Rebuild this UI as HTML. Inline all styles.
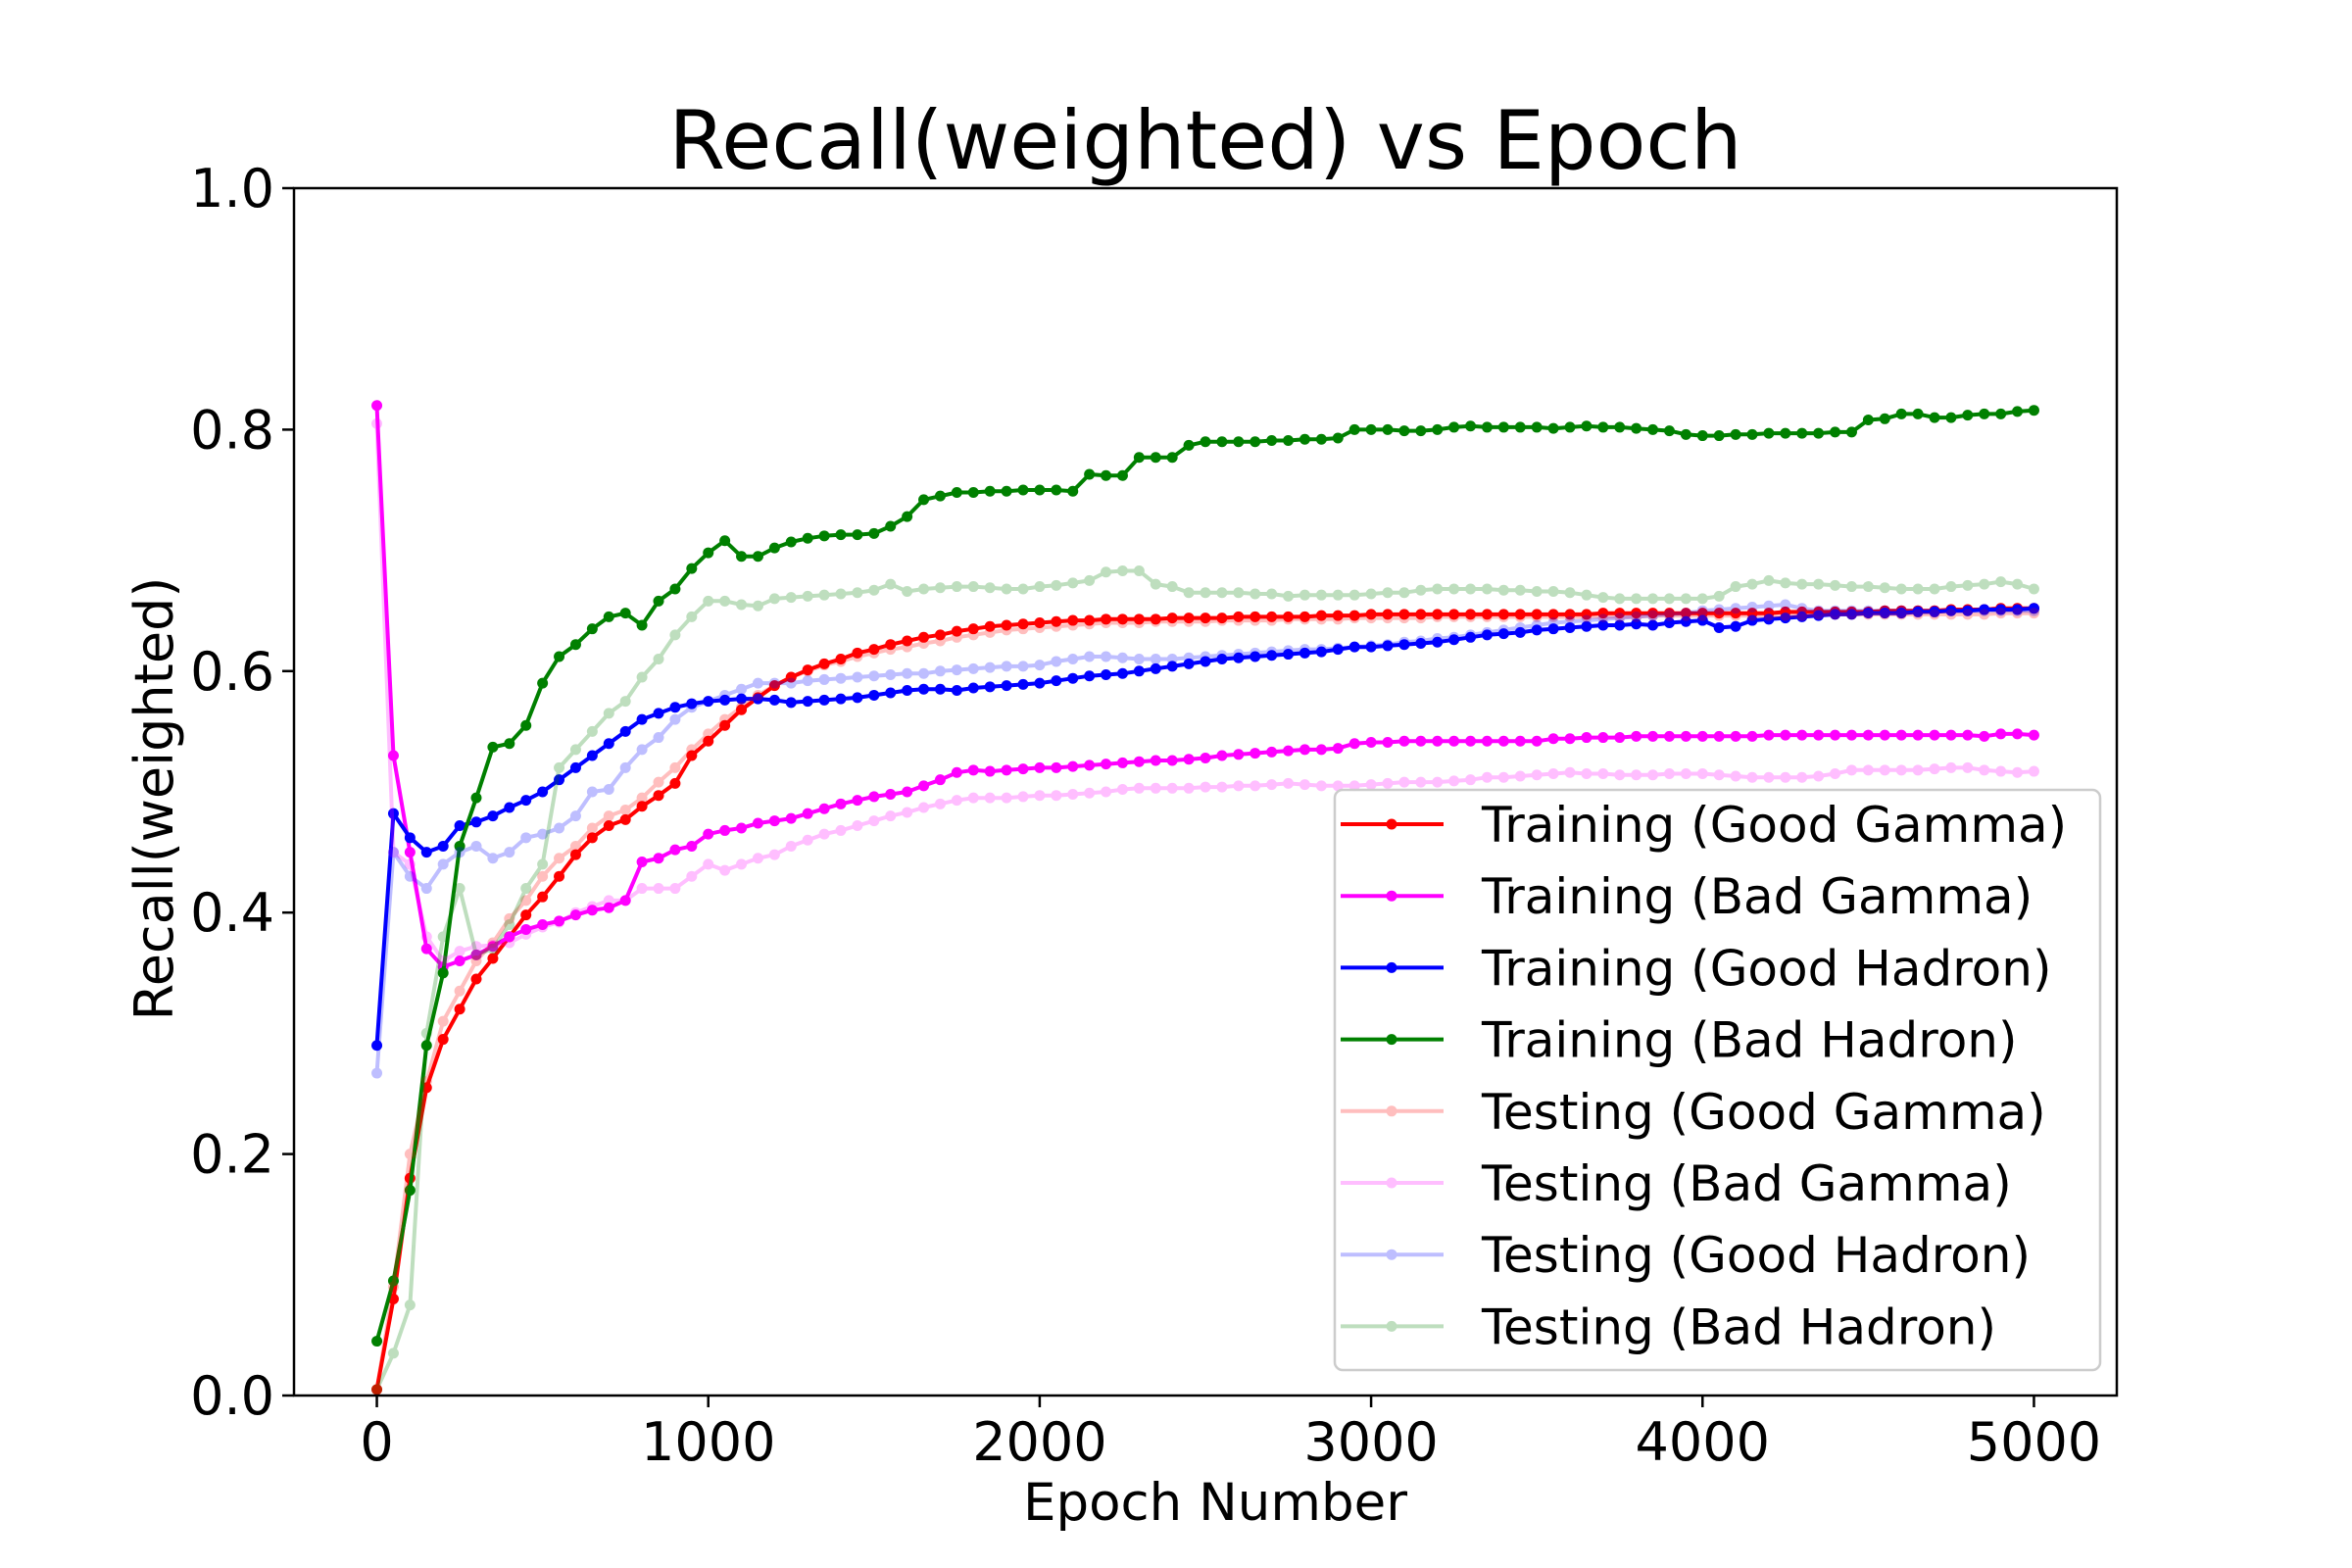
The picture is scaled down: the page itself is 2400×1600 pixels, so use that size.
<!DOCTYPE html>
<html><head><meta charset="utf-8"><style>
html,body{margin:0;padding:0;background:#fff;}
svg{display:block;font-family:"DejaVu Sans","Liberation Sans",sans-serif;}
</style></head><body>
<svg id="chart" width="2400" height="1600" viewBox="0 0 2400 1600" xmlns="http://www.w3.org/2000/svg">
<rect width="2400" height="1600" fill="#fff"/>
<text x="1230" y="172" font-size="83" text-anchor="middle">Recall(weighted) vs Epoch</text>
<g id="plot"></g>
<rect x="300" y="192" width="1860" height="1232" fill="none" stroke="#000" stroke-width="2.5"/>
<g id="axes"></g>
<text x="1240" y="1551" font-size="53" text-anchor="middle">Epoch Number</text>
<text transform="translate(176,815) rotate(-90)" font-size="54" text-anchor="middle">Recall(weighted)</text>
<g id="legend"></g>
</svg>
<script>
const epochStep = 50;
const trainGoodGamma = [.005,
.08,.18,.255,.295,.32,.345,.362,.38,.398,.413,
.43,.448,.462,.472,.477,.488,.497,.507,.53,.542,
.555,.568,.578,.588,.595,.601,.606,.61,.615,.618,
.622,.625,.628,.63,.633,.635,.637,.638,.639,.64,
.641,.642,.642,.643,.643,.643,.643,.644,.644,.644,
.644,.645,.645,.645,.645,.645,.646,.646,.646,.647,
.647,.647,.647,.647,.647,.647,.647,.647,.647,.647,
.647,.647,.647,.648,.648,.648,.648,.648,.648,.648,
.648,.648,.648,.648,.649,.649,.649,.649,.649,.649,
.65,.65,.65,.65,.651,.651,.651,.652,.652,.652];
const trainBadGamma = [.82,
.53,.45,.37,.355,.36,.365,.372,.38,.386,.39,
.393,.398,.402,.404,.41,.442,.445,.452,.455,.465,
.468,.47,.474,.476,.478,.482,.486,.49,.493,.496,
.498,.5,.505,.51,.516,.518,.517,.518,.519,.52,
.52,.521,.522,.523,.524,.525,.526,.526,.527,.528,
.53,.531,.532,.533,.534,.535,.535,.536,.54,.541,
.541,.542,.542,.542,.542,.542,.542,.542,.542,.542,
.544,.544,.545,.545,.545,.546,.546,.546,.546,.546,
.546,.546,.546,.547,.547,.547,.547,.547,.547,.547,
.547,.547,.547,.547,.547,.547,.546,.548,.548,.547];
const trainGoodHadron = [.29,
.482,.462,.45,.455,.472,.475,.48,.487,.493,.5,
.51,.52,.53,.54,.55,.56,.565,.57,.573,.575,
.576,.577,.577,.576,.574,.575,.576,.577,.578,.58,
.582,.584,.585,.585,.584,.586,.587,.588,.589,.59,
.592,.594,.596,.597,.598,.6,.602,.604,.606,.608,
.61,.611,.612,.613,.614,.615,.616,.618,.62,.62,
.621,.622,.623,.624,.626,.628,.63,.631,.632,.634,
.635,.636,.637,.638,.638,.639,.638,.64,.641,.642,
.636,.637,.642,.643,.644,.645,.646,.647,.647,.648,
.648,.648,.649,.649,.65,.65,.651,.651,.651,.652];
const trainBadHadron = [.045,
.095,.17,.29,.35,.455,.495,.537,.54,.555,.59,
.612,.622,.635,.645,.648,.638,.658,.668,.685,.698,
.708,.695,.695,.702,.707,.71,.712,.713,.713,.714,
.72,.728,.742,.745,.748,.748,.749,.749,.75,.75,
.75,.749,.763,.762,.762,.777,.777,.777,.787,.79,
.79,.79,.79,.791,.791,.792,.792,.793,.8,.8,
.8,.799,.799,.8,.802,.803,.802,.802,.802,.802,
.801,.802,.803,.802,.802,.801,.8,.799,.796,.795,
.795,.796,.796,.797,.797,.797,.797,.798,.798,.808,
.809,.813,.813,.81,.81,.812,.813,.813,.815,.816];
const testGoodGamma = [.005,
.09,.2,.26,.31,.335,.36,.375,.395,.41,.43,
.445,.455,.47,.48,.485,.495,.508,.52,.535,.548,
.56,.57,.58,.588,.595,.6,.605,.608,.612,.615,
.618,.62,.623,.625,.628,.63,.632,.634,.635,.636,
.637,.638,.639,.64,.64,.64,.641,.641,.641,.641,
.642,.642,.642,.642,.643,.643,.643,.643,.644,.644,
.644,.644,.644,.645,.645,.645,.645,.645,.645,.645,
.645,.645,.645,.645,.645,.645,.646,.646,.646,.646,
.646,.646,.646,.646,.646,.646,.647,.647,.647,.647,
.647,.647,.647,.647,.647,.647,.647,.648,.648,.648];
const testBadGamma = [.805,
.45,.44,.38,.36,.368,.372,.373,.375,.382,.388,
.392,.4,.405,.41,.41,.42,.42,.42,.43,.44,
.435,.44,.445,.448,.455,.46,.465,.468,.472,.476,
.48,.483,.487,.49,.493,.495,.495,.495,.496,.497,
.497,.498,.499,.5,.502,.503,.503,.503,.503,.504,
.504,.505,.505,.506,.507,.506,.505,.505,.505,.506,
.507,.508,.508,.508,.509,.51,.512,.512,.513,.514,
.515,.516,.515,.515,.514,.514,.514,.515,.515,.515,
.514,.513,.512,.512,.512,.512,.513,.515,.518,.518,
.518,.518,.518,.519,.52,.52,.518,.517,.516,.517];
const testGoodHadron = [.267,
.45,.43,.42,.44,.45,.455,.445,.45,.462,.465,
.47,.48,.5,.502,.52,.535,.545,.56,.57,.575,
.58,.585,.59,.59,.59,.592,.593,.594,.595,.596,
.597,.598,.598,.6,.601,.602,.603,.604,.604,.605,
.608,.61,.612,.612,.611,.61,.61,.61,.611,.612,
.613,.614,.615,.616,.617,.618,.618,.619,.62,.621,
.622,.624,.625,.627,.628,.63,.632,.634,.636,.638,
.64,.641,.642,.643,.644,.645,.646,.647,.648,.65,
.651,.652,.653,.654,.655,.652,.65,.65,.65,.65,
.65,.65,.65,.65,.65,.65,.65,.65,.65,.65];
const testBadHadron = [.005,
.035,.075,.3,.38,.42,.365,.37,.39,.42,.44,
.52,.535,.55,.565,.575,.595,.61,.63,.645,.658,
.658,.655,.654,.66,.661,.662,.663,.664,.665,.667,
.672,.666,.668,.669,.67,.67,.669,.668,.668,.67,
.671,.673,.675,.682,.683,.683,.672,.67,.665,.665,
.665,.665,.664,.664,.662,.663,.663,.663,.663,.664,
.665,.665,.667,.668,.668,.668,.668,.667,.667,.666,
.666,.665,.663,.661,.66,.66,.66,.66,.66,.66,
.662,.67,.672,.675,.673,.672,.672,.671,.67,.67,
.669,.668,.668,.668,.67,.671,.672,.674,.672,.668];
const xTicks = [0,1000,2000,3000,4000,5000];
const yTicks = [0.0,0.2,0.4,0.6,0.8,1.0];
const seriesNames = ["Training (Good Gamma)","Training (Bad Gamma)","Training (Good Hadron)","Training (Bad Hadron)","Testing (Good Gamma)","Testing (Bad Gamma)","Testing (Good Hadron)","Testing (Bad Hadron)"];

const NS="http://www.w3.org/2000/svg";
const L=300,R=2160,T=192,B=1424,XMIN=-250,XMAX=5250;
const sx=v=>L+(v-XMIN)/(XMAX-XMIN)*(R-L);
const sy=v=>B-v*(B-T);
const series=[
 {d:trainGoodGamma,c:"#ff0000",a:1,id:"train-good-gamma"},
 {d:trainBadGamma,c:"#ff00ff",a:1,id:"train-bad-gamma"},
 {d:trainGoodHadron,c:"#0000ff",a:1,id:"train-good-hadron"},
 {d:trainBadHadron,c:"#008000",a:1,id:"train-bad-hadron"},
 {d:testGoodGamma,c:"#ff0000",a:0.25,id:"test-good-gamma"},
 {d:testBadGamma,c:"#ff00ff",a:0.25,id:"test-bad-gamma"},
 {d:testGoodHadron,c:"#0000ff",a:0.25,id:"test-good-hadron"},
 {d:testBadHadron,c:"#008000",a:0.25,id:"test-bad-hadron"}];
function mk(t,at,parent){const e=document.createElementNS(NS,t);for(const k in at)e.setAttribute(k,at[k]);parent.appendChild(e);return e;}
const plot=document.getElementById('plot');
series.forEach(s=>{
 const g=mk('g',{opacity:s.a},plot);
 
 
 const pts=s.d.map((v,i)=>sx(i*epochStep).toFixed(1)+","+sy(v).toFixed(1)).join(" ");
 const pl=mk('polyline',{points:pts,fill:"none",stroke:s.c,"stroke-width":4,"stroke-linejoin":"round"},g);
 
 
 s.d.forEach((v,i)=>{
  const c=mk('circle',{cx:sx(i*epochStep),cy:sy(v),r:5.5,fill:s.c},g);
  
  
 });
});
const axes=document.getElementById('axes');
xTicks.forEach(v=>{
 const x=sx(v);
 const tk=mk('line',{x1:x,x2:x,y1:B,y2:B+12,stroke:"#000","stroke-width":2.5},axes);
 
 
 const t=mk('text',{x:x,y:B+66,"font-size":54,"text-anchor":"middle"},axes);
 t.textContent=String(v);
 
 
});
yTicks.forEach(v=>{
 const y=sy(v);
 const tk=mk('line',{x1:L-12,x2:L,y1:y,y2:y,stroke:"#000","stroke-width":2.5},axes);
 
 
 const t=mk('text',{x:L-20,y:y+19,"font-size":54,"text-anchor":"end"},axes);
 t.textContent=v.toFixed(1);
 
 
});
const lg=document.getElementById('legend');


const box=mk('rect',{x:1362,y:806,width:781,height:592,rx:8,fill:"#fff","fill-opacity":0.8,stroke:"#cccccc","stroke-width":2.5},lg);


seriesNames.forEach((n,i)=>{
 const y=841+i*73.2, s=series[i];
 const g=mk('g',{},lg);
 
 
 const gg=mk('g',{opacity:s.a},g);
 mk('line',{x1:1368,x2:1473,y1:y,y2:y,stroke:s.c,"stroke-width":4},gg);
 mk('circle',{cx:1420,cy:y,r:5.5,fill:s.c},gg);
 const t=mk('text',{x:1512,y:y+18,"font-size":50},g);
 t.textContent=n;
});
</script>
</body></html>
